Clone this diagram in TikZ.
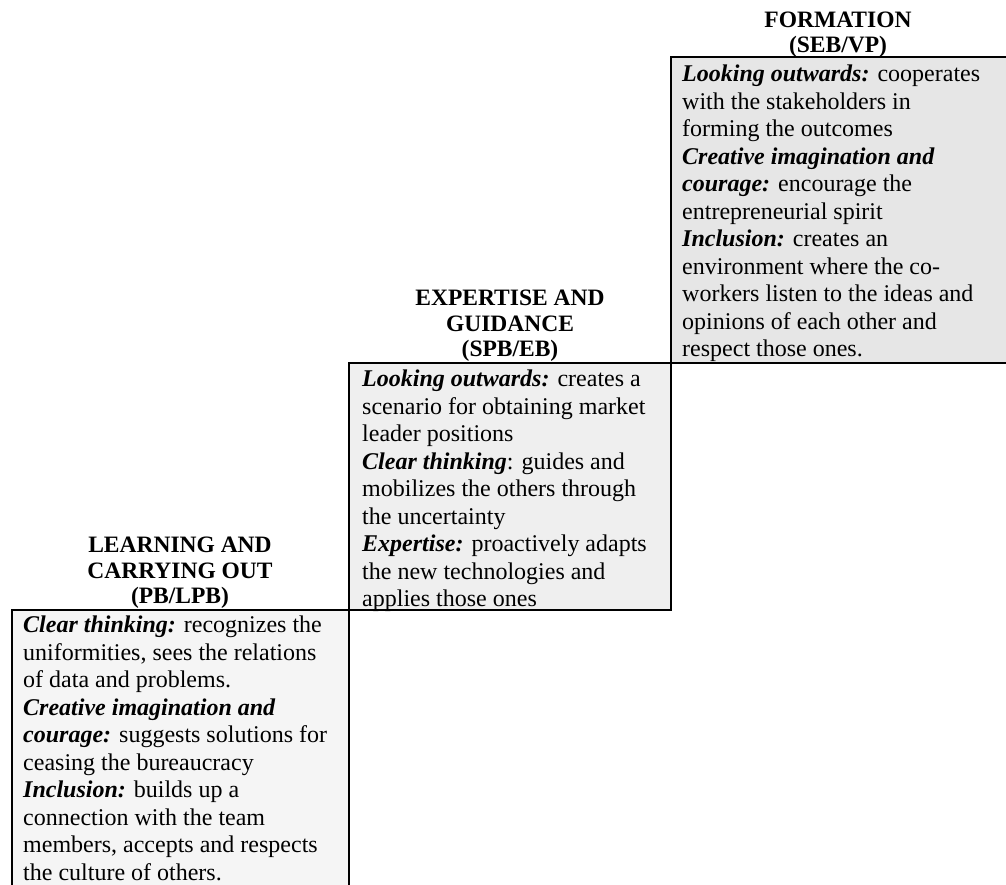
\documentclass[tikz,border=0pt]{standalone}
\usepackage{fontspec}
\setmainfont{Liberation Serif}
\definecolor{fillA}{HTML}{E6E6E6}
\definecolor{fillB}{HTML}{EFEFEF}
\definecolor{fillC}{HTML}{F5F5F5}
\begin{document}
\begin{tikzpicture}[x=1pt,y=-1pt,
  cell/.style={draw=black,line width=2pt},
  body/.style={anchor=north west,inner sep=0pt,align=left,font=\fontsize{24}{27.5}\selectfont},
  head/.style={anchor=south,inner sep=0pt,align=center,font=\fontsize{23.5}{25.5}\selectfont\bfseries}]
\useasboundingbox (0,0) rectangle (1006,885);
\clip (0,0) rectangle (1006,885);
% cells
\fill[fillA] (671,57) rectangle (1010,363);
\fill[fillB] (349,363) rectangle (671,610);
\fill[fillC] (12,610) rectangle (349,890);
\draw[cell] (1010,57) -- (671,57) -- (671,610) -- (349,610) -- (349,890);
\draw[cell] (1010,363) -- (349,363) -- (349,610) -- (12,610) -- (12,890);
% headers
\node[head] (h1) at (838,58) {FORMATION\\(SEB/VP)};
\node[head] (h2) at (510,362) {EXPERTISE AND\\GUIDANCE\\(SPB/EB)};
\node[head] (h3) at (180,609) {LEARNING AND\\CARRYING OUT\\(PB/LPB)};
% bodies
\node[body] (b1) at (682,65) {\textbf{\textit{Looking outwards:}} cooperates\\with the stakeholders in\\forming the outcomes\\\textbf{\textit{Creative imagination and}}\\\textbf{\textit{courage:}} encourage the\\entrepreneurial spirit\\\textbf{\textit{Inclusion:}} creates an\\environment where the co-\\workers listen to the ideas and\\opinions of each other and\\respect those ones.};
\node[body] (b2) at (362,370) {\textbf{\textit{Looking outwards:}} creates a\\scenario for obtaining market\\leader positions\\\textbf{\textit{Clear thinking}}: guides and\\mobilizes the others through\\the uncertainty\\\textbf{\textit{Expertise:}} proactively adapts\\the new technologies and\\applies those ones};
\node[body] (b3) at (23,616) {\textbf{\textit{Clear thinking:}} recognizes the\\uniformities, sees the relations\\of data and problems.\\\textbf{\textit{Creative imagination and}}\\\textbf{\textit{courage:}} suggests solutions for\\ceasing the bureaucracy\\\textbf{\textit{Inclusion:}} builds up a\\connection with the team\\members, accepts and respects\\the culture of others.};
\end{tikzpicture}
\end{document}
